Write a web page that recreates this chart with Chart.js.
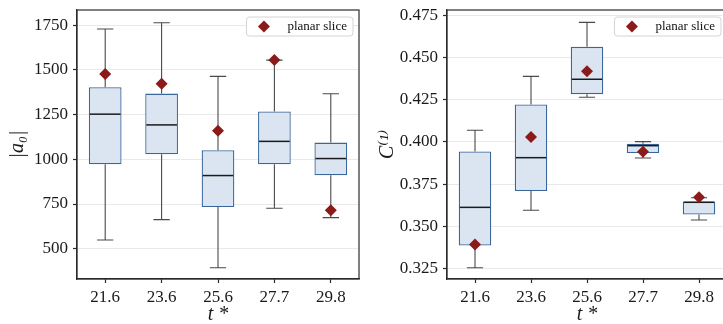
<!DOCTYPE html>
<html>
<head>
<meta charset="utf-8">
<script src="https://cdn.jsdelivr.net/npm/chart.js@4/dist/chart.umd.min.js"></script>
<style>
  html, body { margin: 0; padding: 0; background: #fff; width: 723px; height: 324px; overflow: hidden; position: relative; }
  canvas { position: absolute; top: 0; }
</style>
</head>
<body>
<canvas id="left" width="370" height="324" style="left:0"></canvas>
<canvas id="right" width="370" height="324" style="left:370px"></canvas>
<script>
// categories (t*)
const tLabels = ['21.6', '23.6', '25.6', '27.7', '29.8'];

// |a0| box stats
const aMin = [549, 663, 394, 726, 674];
const aQ1 = [972, 1028, 733, 972, 910];
const aMed = [1252, 1192, 909, 1100, 1004];
const aQ3 = [1403, 1367, 1050, 1267, 1093];
const aMax = [1728, 1763, 1463, 1554, 1366];
const aPlanar = [1476, 1422, 1160, 1554, 715];
const aTicks = [500, 750, 1000, 1250, 1500, 1750];

// C(1) box stats
const cMin = [0.3256, 0.3596, 0.4265, 0.3905, 0.3538];
const cQ1 = [0.3387, 0.3710, 0.4283, 0.3935, 0.3570];
const cMed = [0.3613, 0.3907, 0.4371, 0.3978, 0.3643];
const cQ3 = [0.3944, 0.4222, 0.4563, 0.3990, 0.3647];
const cMax = [0.4069, 0.4388, 0.4708, 0.4002, 0.3670];
const cPlanar = [0.3393, 0.4030, 0.4419, 0.3942, 0.3673];
const cTicks = [0.325, 0.350, 0.375, 0.400, 0.425, 0.450, 0.475];

const serif = 'Liberation Serif, DejaVu Serif, serif';
Chart.defaults.font.family = serif;
Chart.defaults.color = '#222';

const boxFill = '#dae5f1';
const boxEdge = '#3a679b';
const markColor = '#8b1a1a';
const axisColor = '#2b2b2b';

// whiskers + medians, drawn just before the diamonds
const whiskerPlugin = {
  id: 'whiskers',
  beforeDatasetDraw(chart, args) {
    if (args.index !== 1) return;
    const st = chart.config.options.plugins.whiskers;
    const y = chart.scales.y;
    const bars = chart.getDatasetMeta(0).data;
    const ctx = chart.ctx;
    ctx.save();
    bars.forEach((bar, i) => {
      const x = bar.x;
      const cap = bar.width / 4;
      ctx.strokeStyle = '#4a4a4a';
      ctx.lineWidth = 1.1;
      ctx.beginPath();
      ctx.moveTo(x, y.getPixelForValue(st.max[i]));
      ctx.lineTo(x, y.getPixelForValue(st.q3[i]));
      ctx.moveTo(x, y.getPixelForValue(st.q1[i]));
      ctx.lineTo(x, y.getPixelForValue(st.min[i]));
      ctx.moveTo(x - cap, y.getPixelForValue(st.max[i]));
      ctx.lineTo(x + cap, y.getPixelForValue(st.max[i]));
      ctx.moveTo(x - cap, y.getPixelForValue(st.min[i]));
      ctx.lineTo(x + cap, y.getPixelForValue(st.min[i]));
      ctx.stroke();
      ctx.strokeStyle = '#1a1a1a';
      ctx.lineWidth = 1.5;
      ctx.beginPath();
      const my = y.getPixelForValue(st.med[i]);
      ctx.moveTo(x - bar.width / 2 + 1, my);
      ctx.lineTo(x + bar.width / 2 - 1, my);
      ctx.stroke();
    });
    ctx.restore();
  }
};

// axes frame + legend box inside the plot
const framePlugin = {
  id: 'frame',
  afterDatasetsDraw(chart) {
    const a = chart.chartArea;
    const ctx = chart.ctx;
    ctx.save();
    ctx.strokeStyle = axisColor;
    ctx.lineWidth = 1.2;
    ctx.strokeRect(a.left, a.top, a.right - a.left, a.bottom - a.top);

    const label = chart.data.datasets[1].label;
    ctx.font = '13px ' + serif;
    const tw = ctx.measureText(label).width;
    const w = 41 + tw + 6, h = 19;
    const bx = a.right - 6 - w, by = a.top + 7;
    ctx.fillStyle = 'rgba(255,255,255,0.9)';
    ctx.strokeStyle = '#d4d4d4';
    ctx.lineWidth = 1;
    ctx.beginPath();
    ctx.roundRect(bx, by, w, h, 3);
    ctx.fill();
    ctx.stroke();
    const dx = bx + 17.5, dy = by + h / 2;
    ctx.fillStyle = markColor;
    ctx.beginPath();
    ctx.moveTo(dx, dy - 6);
    ctx.lineTo(dx + 6, dy);
    ctx.lineTo(dx, dy + 6);
    ctx.lineTo(dx - 6, dy);
    ctx.closePath();
    ctx.fill();
    ctx.fillStyle = '#111';
    ctx.textBaseline = 'middle';
    ctx.fillText(label, bx + 41, dy + 0.5);
    ctx.restore();
  }
};

function makeChart(id, st, planar, ticks, yMin, yMax, yTitle, fmt, padRight) {
  return new Chart(document.getElementById(id), {
    type: 'bar',
    data: {
      labels: tLabels,
      datasets: [
        {
          label: 'box',
          data: st.q1.map((v, i) => [v, st.q3[i]]),
          backgroundColor: boxFill,
          borderColor: boxEdge,
          borderWidth: 1.3,
          borderSkipped: false,
          barPercentage: 0.58,
          categoryPercentage: 1,
          order: 2
        },
        {
          type: 'line',
          label: 'planar slice',
          data: planar,
          showLine: false,
          pointStyle: 'rectRot',
          pointRadius: 6,
          pointBackgroundColor: markColor,
          pointBorderColor: markColor,
          pointBorderWidth: 0,
          order: 1
        }
      ]
    },
    options: {
      responsive: false,
      animation: false,
      layout: { padding: { top: 10, right: padRight, left: 0, bottom: 0 } },
      scales: {
        x: {
          offset: true,
          grid: { offset: false, drawOnChartArea: false, drawTicks: true, tickLength: 4, tickColor: axisColor, tickWidth: 1.2 },
          border: { color: axisColor, width: 1.2 },
          ticks: { font: { family: serif, size: 17 }, color: '#1a1a1a', padding: 4, maxRotation: 0 },
          title: { display: true, text: 't *', font: { family: serif, size: 20, style: 'italic' }, color: '#1a1a1a', padding: { top: 0, bottom: -3 } },
          afterFit(s) { s.height = 45; s.paddingLeft = 0; s.paddingRight = 0; }
        },
        y: {
          min: yMin,
          max: yMax,
          grid: { color: '#e9e9e9', lineWidth: 1, tickLength: 4, tickColor: axisColor, tickWidth: 1.2 },
          border: { color: axisColor, width: 1.2 },
          ticks: { font: { family: serif, size: 17 }, color: '#1a1a1a', padding: 5, callback: fmt },
          afterBuildTicks(s) { s.ticks = ticks.map(v => ({ value: v })); },
          title: { display: true, text: yTitle, font: { family: serif, size: 20, style: 'italic' }, color: '#1a1a1a', padding: { top: 6, bottom: 0 } },
          afterFit(s) { s.width = 77; s.paddingTop = 0; s.paddingBottom = 0; }
        }
      },
      plugins: {
        legend: { display: false },
        tooltip: { enabled: false },
        whiskers: st
      }
    },
    plugins: [whiskerPlugin, framePlugin]
  });
}

makeChart('left',
  { min: aMin, q1: aQ1, med: aMed, q3: aQ3, max: aMax },
  aPlanar, aTicks, 331, 1834, '|a\u2080|', v => String(v), 11);

makeChart('right',
  { min: cMin, q1: cQ1, med: cMed, q3: cQ3, max: cMax },
  cPlanar, cTicks, 0.3189, 0.4781, 'C\u207D\u00B9\u207E', v => v.toFixed(3), 13);
</script>
</body>
</html>
